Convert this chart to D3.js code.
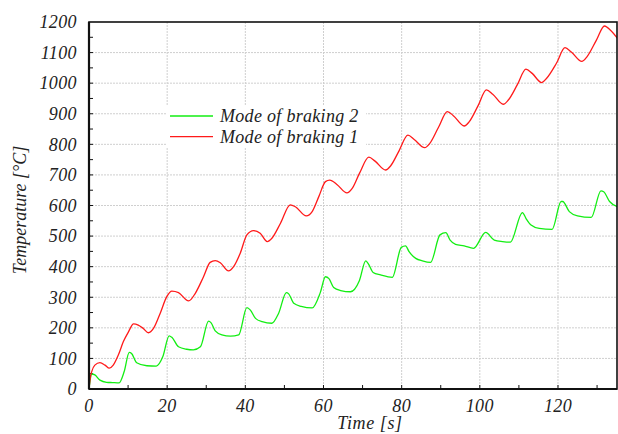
<!DOCTYPE html>
<html>
<head>
<meta charset="utf-8">
<script src="https://cdn.jsdelivr.net/npm/d3@7"></script>
<style>
  html, body { margin: 0; padding: 0; background: #fff; }
  svg text { font-family: "Liberation Serif", "DejaVu Serif", serif; font-style: italic; fill: #222; }
</style>
</head>
<body>
<svg id="chart" width="618" height="434"></svg>
<script>
// ---- Data ----
const mode1Time = [0, 0.3, 0.7, 1.5, 2.8, 4.1, 5.2, 6.2, 7.5, 8.8, 10.1, 11.4, 12.6, 13.9, 15.2, 16.5, 18.2, 19.9, 21.2, 22.9, 25.5, 27.2, 29.3, 31.0, 32.3, 33.6, 35.7, 37.0, 38.7, 40.4, 42.1, 43.8, 45.6, 46.8, 49.0, 51.5, 52.8, 55.6, 57.1, 58.8, 60.5, 61.6, 63.5, 66.0, 67.3, 69.2, 71.6, 73.2, 75.9, 77.2, 79.3, 81.6, 83.2, 85.9, 87.2, 89.4, 91.7, 93.3, 96.0, 97.3, 99.5, 101.7, 103.3, 106.0, 107.3, 109.6, 111.8, 113.4, 115.8, 117.1, 119.6, 121.8, 123.4, 126.1, 127.4, 129.8, 131.9, 133.5, 135.3];
const mode1Temp = [0, 35, 57, 78, 86, 78, 68, 78, 111, 155, 187, 213, 209, 198, 184, 198, 247, 302, 320, 315, 288, 313, 367, 414, 420, 413, 386, 400, 444, 504, 518, 509, 482, 493, 542, 602, 596, 566, 580, 629, 678, 683, 668, 641, 655, 705, 758, 745, 716, 730, 778, 830, 816, 789, 803, 855, 907, 893, 860, 874, 925, 978, 964, 931, 945, 995, 1046, 1032, 1002, 1016, 1065, 1116, 1102, 1071, 1086, 1140, 1187, 1172, 1145];

const mode2Time = [0, 0.3, 0.7, 1.5, 2.8, 4.5, 6.0, 7.7, 9.0, 10.3, 10.9, 12.2, 14.8, 17.2, 18.9, 20.5, 21.2, 22.9, 25.0, 26.7, 28.5, 30.6, 31.2, 32.3, 34.0, 36.2, 38.3, 40.4, 41.3, 42.6, 44.3, 46.8, 48.5, 50.5, 51.1, 52.4, 54.3, 57.1, 59.2, 60.5, 61.4, 62.6, 64.4, 66.9, 69.2, 70.8, 71.4, 72.7, 74.6, 77.6, 79.9, 81.0, 81.9, 83.6, 85.3, 87.4, 89.8, 91.3, 92.4, 93.8, 96.0, 98.4, 101.5, 103.7, 105.8, 107.8, 110.9, 111.8, 113.1, 115.2, 118.5, 120.8, 121.2, 122.9, 125.0, 128.5, 131.0, 131.7, 133.2, 135.3];
const mode2Temp = [0, 30, 49, 46, 29, 22, 21, 20, 57, 120, 116, 86, 76, 75, 106, 174, 169, 138, 130, 128, 138, 222, 217, 190, 177, 173, 177, 266, 258, 231, 220, 215, 247, 315, 311, 280, 270, 265, 316, 367, 361, 332, 322, 318, 355, 419, 411, 381, 373, 365, 463, 468, 449, 427, 419, 414, 504, 511, 487, 473, 468, 460, 512, 487, 482, 480, 577, 558, 536, 525, 522, 613, 613, 580, 566, 561, 648, 645, 613, 596];

const xTicks = [0, 20, 40, 60, 80, 100, 120];
const yTicks = [0, 100, 200, 300, 400, 500, 600, 700, 800, 900, 1000, 1100, 1200];
const legendLabels = ["Mode of braking 2", "Mode of braking 1"];
const xTitle = "Time [s]";
const yTitle = "Temperature [°C]";

// ---- Layout ----
const svg = d3.select("#chart");
const L = 89, R = 617, T = 22, B = 389;
const x = d3.scaleLinear().domain([0, 135.1]).range([L, R]);
const y = d3.scaleLinear().domain([0, 1200]).range([B, T]);

const red = "#ff1a1a", green = "#13ee13";

// gridlines
const grid = svg.append("g");
grid.selectAll("line.gx").data(xTicks.filter(d => d > 0)).join("line")
  .attr("x1", d => x(d)).attr("x2", d => x(d)).attr("y1", T).attr("y2", B)
  .attr("stroke", "#cfcfcf").attr("stroke-width", 1).attr("stroke-dasharray", "2,1");
grid.selectAll("line.gy").data(yTicks.filter(d => d > 0 && d < 1200)).join("line")
  .attr("x1", L).attr("x2", R).attr("y1", d => y(d)).attr("y2", d => y(d))
  .attr("stroke", "#cfcfcf").attr("stroke-width", 1).attr("stroke-dasharray", "2,1");

// minor ticks (inward)
const minorX = d3.range(10, 135, 10);
const minorY = d3.range(50, 1200, 50);
svg.append("g").selectAll("line").data(minorX).join("line")
  .attr("x1", d => x(d)).attr("x2", d => x(d)).attr("y1", B).attr("y2", B - 4)
  .attr("stroke", "#111").attr("stroke-width", 1);
svg.append("g").selectAll("line").data(minorY).join("line")
  .attr("x1", L).attr("x2", L + 4).attr("y1", d => y(d)).attr("y2", d => y(d))
  .attr("stroke", "#111").attr("stroke-width", 1);

// legend background
const lg = svg.append("g");
lg.append("rect").attr("x", 166).attr("y", 105).attr("width", 200).attr("height", 43).attr("fill", "#fff");

// lines
const line = d3.line().x(d => x(d[0])).y(d => y(d[1])).curve(d3.curveMonotoneX);
const s1 = mode1Time.map((t, i) => [t, mode1Temp[i]]);
const s2 = mode2Time.map((t, i) => [t, mode2Temp[i]]);
svg.append("defs").append("clipPath").attr("id", "clip")
  .append("rect").attr("x", L).attr("y", T).attr("width", R - L).attr("height", B - T);
const plot = svg.append("g").attr("clip-path", "url(#clip)");
plot.append("path").datum(s2).attr("d", line).attr("fill", "none").attr("stroke", green).attr("stroke-width", 1.3);
plot.append("path").datum(s1).attr("d", line).attr("fill", "none").attr("stroke", red).attr("stroke-width", 1.3);

// frame
svg.append("rect").attr("x", L).attr("y", T).attr("width", R - L).attr("height", B - T)
  .attr("fill", "none").attr("stroke", "#111").attr("stroke-width", 1.6);
svg.append("line").attr("x1", L).attr("x2", L).attr("y1", T).attr("y2", B).attr("stroke", "#111").attr("stroke-width", 2.2);
svg.append("line").attr("x1", L).attr("x2", R).attr("y1", B).attr("y2", B).attr("stroke", "#111").attr("stroke-width", 2.2);

// tick labels
svg.append("g").selectAll("text").data(yTicks).join("text")
  .attr("x", 77).attr("y", d => y(d)).attr("dy", "0.35em")
  .attr("text-anchor", "end").attr("font-size", 18).attr("letter-spacing", 0.4)
  .text(d => d);
svg.append("g").selectAll("text").data(xTicks).join("text")
  .attr("x", d => x(d)).attr("y", 412)
  .attr("text-anchor", "middle").attr("font-size", 18).attr("letter-spacing", 0.4)
  .text(d => d);

// axis titles
svg.append("text").attr("x", 370).attr("y", 429).attr("text-anchor", "middle")
  .attr("font-size", 18).attr("letter-spacing", 0.6).text(xTitle);
svg.append("text").attr("transform", "translate(26,210) rotate(-90)").attr("text-anchor", "middle")
  .attr("font-size", 18).text(yTitle);

// legend
const legendColors = [green, red];
const legendY = [116, 136.7];
legendLabels.forEach((lab, i) => {
  lg.append("line").attr("x1", 170).attr("x2", 213).attr("y1", legendY[i]).attr("y2", legendY[i])
    .attr("stroke", legendColors[i]).attr("stroke-width", 1.3);
  lg.append("text").attr("x", 220).attr("y", legendY[i] + 6.3).attr("font-size", 18)
    .attr("letter-spacing", 0.3).text(lab);
});
</script>
</body>
</html>
